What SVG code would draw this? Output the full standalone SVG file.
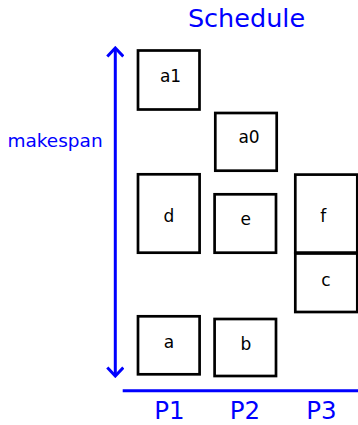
<svg xmlns="http://www.w3.org/2000/svg" width="358" height="425" viewBox="0 0 358 425">
  <style>
    .box { fill: #ffffff; stroke: #000000; stroke-width: 2.7; }
    .lbl { font-family: "DejaVu Sans", sans-serif; font-size: 17px; fill: #000000; text-anchor: middle; }
    .blue { font-family: "DejaVu Sans", sans-serif; fill: #0000ff; text-anchor: middle; }
    .axis { stroke: #0000ff; stroke-width: 3; fill: none; }
  </style>
  <defs>
    <marker id="openArrow" viewBox="-10 -9 12 18" refX="0" refY="0" markerWidth="12" markerHeight="18" markerUnits="userSpaceOnUse" orient="auto-start-reverse">
      <path d="M -8.5 -8 L 0 0 L -8.5 8" fill="none" stroke="#0000ff" stroke-width="3"/>
    </marker>
  </defs>
  <rect width="358" height="425" fill="#ffffff"/>

  <text class="blue" x="246.5" y="26.5" font-size="25.5">Schedule</text>
  <text class="blue" x="55" y="146.5" font-size="18.5">makespan</text>

  <g id="connectors">
    <line class="axis" x1="115.3" y1="48" x2="115.3" y2="376" marker-start="url(#openArrow)" marker-end="url(#openArrow)"/>
    <line class="axis" x1="122.7" y1="390.7" x2="358" y2="390.7"/>
  </g>

  <g id="node-a1"><rect class="box" x="138" y="50.5" width="61.5" height="59"/><text class="lbl" x="170.5" y="81.7">a1</text></g>
  <g id="node-a0"><rect class="box" x="215.3" y="113" width="61.4" height="57.7"/><text class="lbl" x="249" y="143.3">a0</text></g>
  <g id="node-d"><rect class="box" x="138" y="174.3" width="61.6" height="78.4"/><text class="lbl" x="169" y="221.7">d</text></g>
  <g id="node-e"><rect class="box" x="214.6" y="194.3" width="61.4" height="58.4"/><text class="lbl" x="245.7" y="225">e</text></g>
  <g id="node-f"><rect class="box" x="295.3" y="174.6" width="62" height="78"/><text class="lbl" x="323.3" y="221.7">f</text></g>
  <g id="node-c"><rect class="box" x="295.3" y="253.5" width="62" height="58.5"/><text class="lbl" x="326" y="286">c</text></g>
  <g id="node-a"><rect class="box" x="138" y="316.3" width="61.6" height="58"/><text class="lbl" x="169" y="348.3">a</text></g>
  <g id="node-b"><rect class="box" x="214.6" y="319" width="61.4" height="57"/><text class="lbl" x="246" y="350">b</text></g>

  <text class="blue" x="169.5" y="419.2" font-size="24.5">P1</text>
  <text class="blue" x="245" y="419.2" font-size="24.5">P2</text>
  <text class="blue" x="321.5" y="419.2" font-size="24.5">P3</text>
</svg>
